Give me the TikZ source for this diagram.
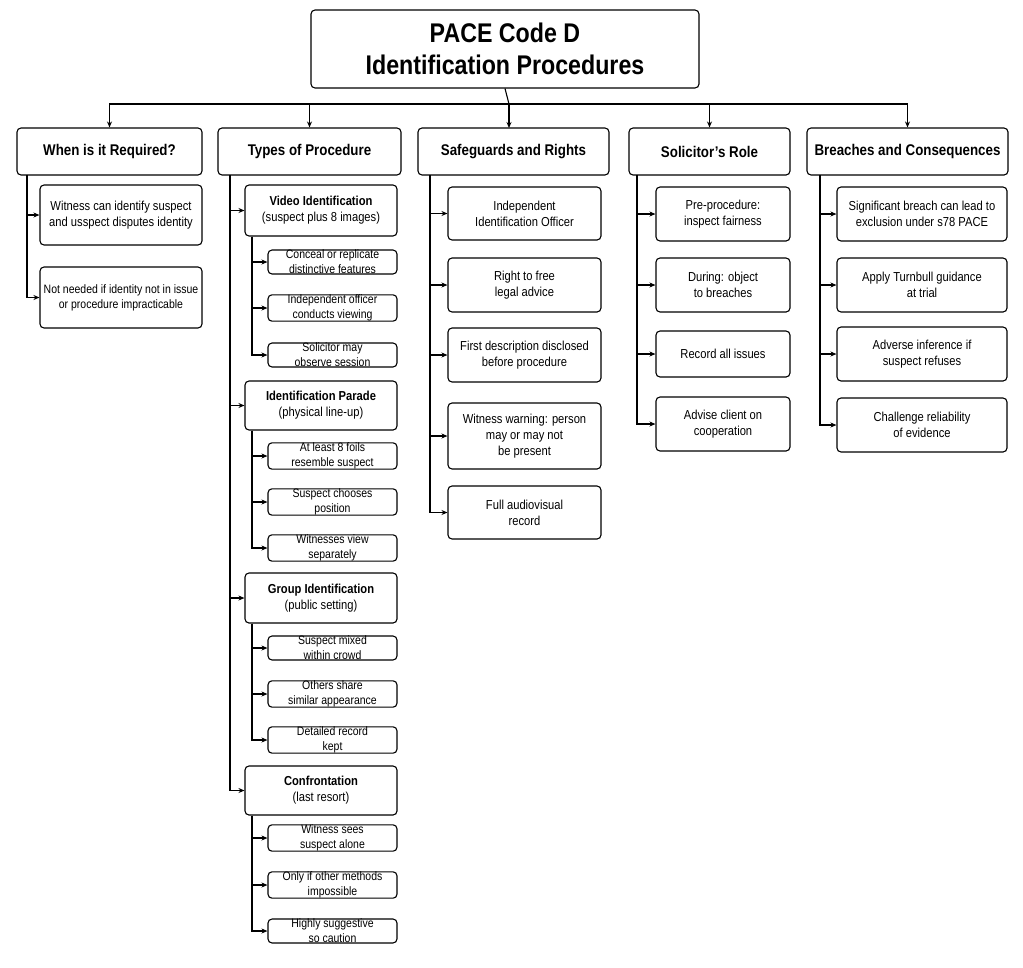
\documentclass[tikz,border=0pt]{standalone}
\usepackage{fontspec}
\setmainfont{Liberation Sans}[FakeStretch=0.86]
\usetikzlibrary{arrows.meta}
\begin{document}
\begin{tikzpicture}[x=1pt,y=-1pt,
 box/.style={draw,rounded corners=4pt,line width=1.1pt,align=center,inner sep=0pt,fill=white},
 hd/.style={font=\fontsize{15.5}{18}\selectfont\bfseries},
 tx/.style={font=\fontsize{13}{16}\selectfont},
 sm/.style={font=\fontsize{12.2}{15}\selectfont},
 ln/.style={line width=1.1pt},
 ar/.style={ln,-{Stealth[length=6pt,width=5pt]}}]
\useasboundingbox (0,0) rectangle (1023,967);
\newcommand\bx[7][tx]{\node[box,#1,minimum width={#4-#2},minimum height={#5-#3}] (#6) at ({(#2+#4)/2},{(#3+#5)/2}) {#7};}
\bx[font=\fontsize{27}{32}\selectfont\bfseries]{311}{10}{699}{88}{T}{PACE Code D\\Identification Procedures}
\bx[hd]{17}{128}{202}{175}{h1}{When is it Required?}
\bx[hd]{218}{128}{401}{175}{h2}{Types of Procedure}
\bx[hd]{418}{128}{609}{175}{h3}{Safeguards and Rights}
\bx[hd]{629}{128}{790}{175}{h4}{Solicitor's Role}
\bx[hd]{807}{128}{1008}{175}{h5}{Breaches and Consequences}
\coordinate (bus) at (509,104);
\draw[ln] (T.south) -- (bus);
\draw[ar] (bus) -| (h1.north);
\draw[ar] (bus) -| (h2.north);
\draw[ar] (bus) -- (509,128);
\draw[ar] (bus) -| (h4.north);
\draw[ar] (bus) -| (h5.north);
% column 1
\bx{40}{185}{202}{245}{a1}{Witness can identify suspect\\and usspect disputes identity}
\bx[sm]{40}{267}{202}{328}{a2}{Not needed if identity not in issue\\or procedure impracticable}
\coordinate (ta) at (27,175);
\foreach \n in {a1,a2} \draw[ar] (ta) |- (\n.west);
% column 2
\bx{245}{185}{397}{236}{v}{\textbf{Video Identification}\\(suspect plus 8 images)}
\bx{245}{381}{397}{430}{p}{\textbf{Identification Parade}\\(physical line-up)}
\bx{245}{573}{397}{623}{g}{\textbf{Group Identification}\\(public setting)}
\bx{245}{766}{397}{815}{c}{\textbf{Confrontation}\\(last resort)}
\coordinate (tb) at (230,175);
\foreach \n in {v,p,g,c} \draw[ar] (tb) |- (\n.west);
\newcommand\sub[5]{%
 \bx[sm]{268}{#2-19}{397}{#2+19}{#1}{#3}}
\sub{v1}{262}{Conceal or replicate\\distinctive features}{}{}
\sub{v2}{308}{Independent officer\\conducts viewing}{}{}
\sub{v3}{355}{Solicitor may\\observe session}{}{}
\sub{p1}{456}{At least 8 foils\\resemble suspect}{}{}
\sub{p2}{502}{Suspect chooses\\position}{}{}
\sub{p3}{548}{Witnesses view\\separately}{}{}
\sub{g1}{648}{Suspect mixed\\within crowd}{}{}
\sub{g2}{694}{Others share\\similar appearance}{}{}
\sub{g3}{740}{Detailed record\\kept}{}{}
\sub{c1}{838}{Witness sees\\suspect alone}{}{}
\sub{c2}{885}{Only if other methods\\impossible}{}{}
\sub{c3}{931}{Highly suggestive\\so caution}{}{}
\foreach \P in {v,p,g,c}{
 \coordinate (s\P) at (\P.south -| 252,0);
 \foreach \i in {1,2,3} \draw[ar] (s\P) |- (\P\i.west);}
% column 3
\bx{448}{187}{601}{240}{s1}{Independent\\Identification Officer}
\bx{448}{258}{601}{312}{s2}{Right to free\\legal advice}
\bx{448}{328}{601}{382}{s3}{First description disclosed\\before procedure}
\bx{448}{403}{601}{469}{s4}{Witness warning: person\\may or may not\\be present}
\bx{448}{486}{601}{539}{s5}{Full audiovisual\\record}
\coordinate (tc) at (430,175);
\foreach \n in {s1,s2,s3,s4,s5} \draw[ar] (tc) |- (\n.west);
% column 4
\bx{656}{187}{790}{241}{r1}{Pre-procedure:\\inspect fairness}
\bx{656}{258}{790}{312}{r2}{During: object\\to breaches}
\bx{656}{331}{790}{377}{r3}{Record all issues}
\bx{656}{397}{790}{451}{r4}{Advise client on\\cooperation}
\coordinate (td) at (637,175);
\foreach \n in {r1,r2,r3,r4} \draw[ar] (td) |- (\n.west);
% column 5
\bx{837}{187}{1007}{241}{b1}{Significant breach can lead to\\exclusion under s78 PACE}
\bx{837}{258}{1007}{312}{b2}{Apply Turnbull guidance\\at trial}
\bx{837}{327}{1007}{381}{b3}{Adverse inference if\\suspect refuses}
\bx{837}{398}{1007}{452}{b4}{Challenge reliability\\of evidence}
\coordinate (te) at (820,175);
\foreach \n in {b1,b2,b3,b4} \draw[ar] (te) |- (\n.west);
\end{tikzpicture}
\end{document}
